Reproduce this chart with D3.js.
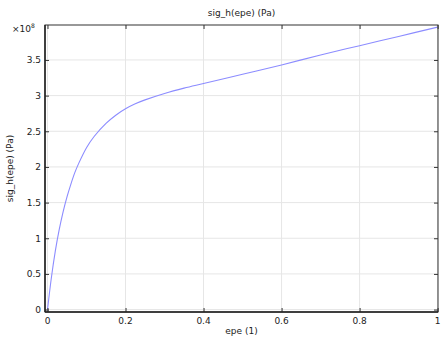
<!DOCTYPE html>
<html>
<head>
<meta charset="utf-8">
<script src="https://cdn.jsdelivr.net/npm/d3@7"></script>
<style>
  body { margin: 0; background: #fff; }
  text { font-family: "DejaVu Sans", sans-serif; fill: #222; }
</style>
</head>
<body>
<svg class="canvas"></svg>
<script>
// values (sig in units of 1e8 Pa)
var epe = [0, 0.01, 0.02, 0.03, 0.04, 0.05, 0.06, 0.07, 0.08, 0.1, 0.12, 0.15, 0.175, 0.2, 0.225, 0.25, 0.3, 0.35, 0.4, 0.5, 0.6, 0.7, 0.8, 0.9, 1.0]
var sig = [0, 0.45, 0.82, 1.12, 1.37, 1.58, 1.76, 1.92, 2.05, 2.27, 2.43, 2.61, 2.725, 2.815, 2.885, 2.94, 3.03, 3.105, 3.17, 3.30, 3.43, 3.57, 3.70, 3.83, 3.96]
var xTicks = [0, 0.2, 0.4, 0.6, 0.8, 1]
var yTicks = [0, 0.5, 1, 1.5, 2, 2.5, 3, 3.5]

var width = 447, height = 337
var pLeft = 45, pTop = 25, pRight = 438, pBottom = 312

var svg = d3.select('.canvas')
    .attr('width', width)
    .attr('height', height)

var x = d3.scaleLinear().domain([-0.0064, 1.001]).range([pLeft, pRight])
var y = d3.scaleLinear().domain([-0.034, 3.99]).range([pBottom, pTop])

// grid
var grid = svg.append('g')
grid.selectAll('.gx').data(xTicks).enter().append('line')
    .attr('x1', d => x(d)).attr('x2', d => x(d))
    .attr('y1', pTop).attr('y2', pBottom)
    .attr('stroke', '#e6e6e6')
grid.selectAll('.gy').data(yTicks).enter().append('line')
    .attr('y1', d => y(d)).attr('y2', d => y(d))
    .attr('x1', pLeft).attr('x2', pRight)
    .attr('stroke', '#e6e6e6')

// curve
var line = d3.line()
    .x((d, i) => x(epe[i]))
    .y(d => y(d))
    .curve(d3.curveCatmullRom.alpha(0.5))
svg.append('path')
    .attr('d', line(sig))
    .attr('fill', 'none')
    .attr('stroke', '#8c8cff')
    .attr('stroke-width', 1.1)

// axes (ticks point inward)
function noText(g) { g.selectAll('text').remove(); g.select('.domain').remove() }
svg.append('g').attr('transform', 'translate(0,' + pBottom + ')')
    .call(d3.axisTop(x).tickValues(xTicks).tickSize(4)).call(noText)
svg.append('g').attr('transform', 'translate(0,' + pTop + ')')
    .call(d3.axisBottom(x).tickValues(xTicks).tickSize(4)).call(noText)
svg.append('g').attr('transform', 'translate(' + pLeft + ',0)')
    .call(d3.axisRight(y).tickValues(yTicks).tickSize(4)).call(noText)
svg.append('g').attr('transform', 'translate(' + pRight + ',0)')
    .call(d3.axisLeft(y).tickValues(yTicks).tickSize(4)).call(noText)
svg.selectAll('.tick line').attr('stroke', '#333')

svg.append('rect')
    .attr('x', pLeft).attr('y', pTop)
    .attr('width', pRight - pLeft).attr('height', pBottom - pTop)
    .attr('fill', 'none').attr('stroke', '#333').attr('stroke-width', 1)
svg.append('line').attr('x1', pLeft).attr('x2', pLeft).attr('y1', pTop).attr('y2', pBottom)
    .attr('stroke', '#222').attr('stroke-width', 1.5)
svg.append('line').attr('x1', pLeft).attr('x2', pRight).attr('y1', pBottom).attr('y2', pBottom)
    .attr('stroke', '#222').attr('stroke-width', 1.5)

// tick labels
svg.selectAll('.xl').data(xTicks).enter().append('text')
    .attr('x', d => x(d)).attr('y', 324)
    .attr('text-anchor', 'middle').attr('font-size', 9)
    .text(d => d3.format('~g')(d))
svg.selectAll('.yl').data(yTicks).enter().append('text')
    .attr('x', 41).attr('y', d => y(d) + 3.5)
    .attr('text-anchor', 'end').attr('font-size', 9)
    .text(d => d3.format('~g')(d))

var ex = svg.append('text').attr('x', 12).attr('y', 32).attr('font-size', 9)
ex.append('tspan').text('\u00d710')
ex.append('tspan').attr('dy', -4).attr('font-size', 6).text('8')

// titles
svg.append('text').attr('x', (pLeft + pRight) / 2).attr('y', 16)
    .attr('text-anchor', 'middle').attr('font-size', 9)
    .text('sig_h(epe) (Pa)')
svg.append('text').attr('x', (pLeft + pRight) / 2).attr('y', 334)
    .attr('text-anchor', 'middle').attr('font-size', 9)
    .text('epe (1)')
svg.append('text')
    .attr('transform', 'translate(13,' + (pTop + pBottom) / 2 + ') rotate(-90)')
    .attr('text-anchor', 'middle').attr('font-size', 9)
    .text('sig_h(epe) (Pa)')
</script>
</body>
</html>
